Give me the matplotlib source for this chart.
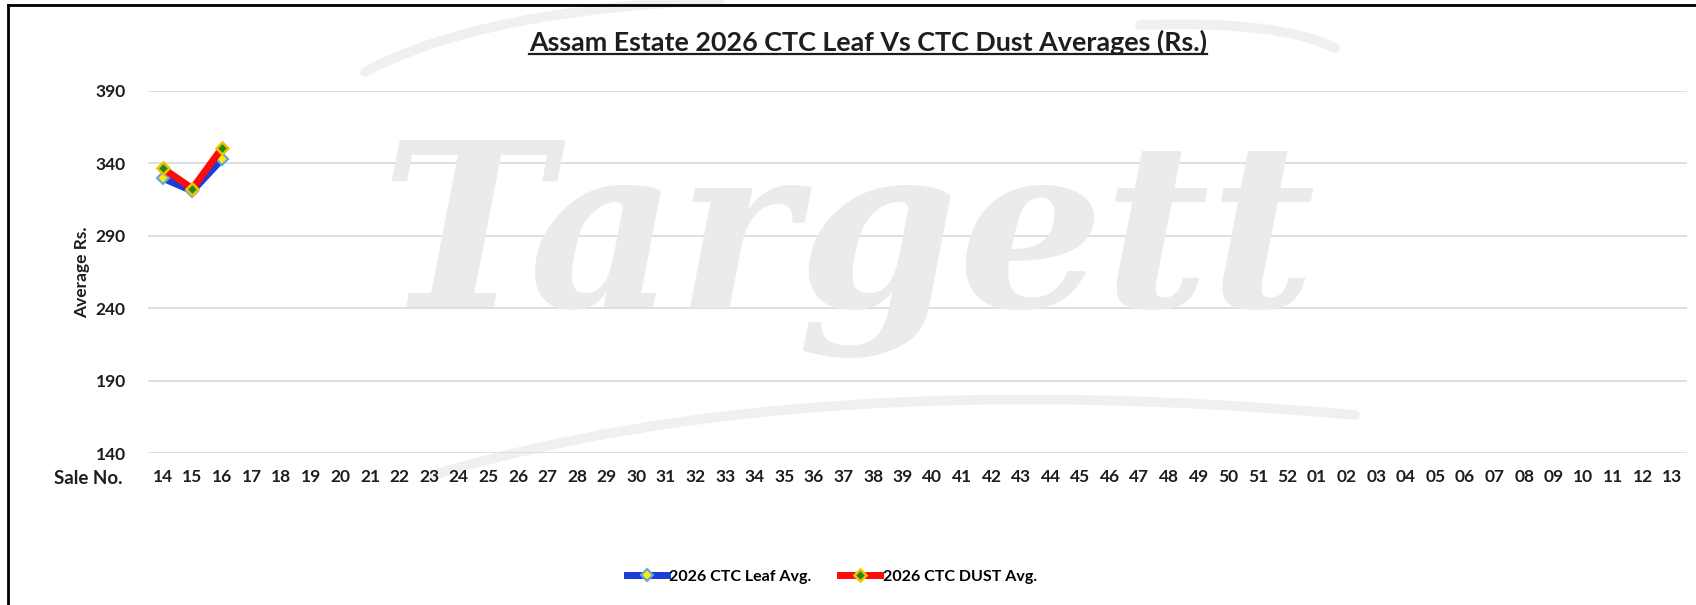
import numpy as np
import matplotlib.pyplot as plt
from matplotlib.lines import Line2D
from matplotlib.path import Path
from matplotlib.patches import PathPatch

plt.rcParams['font.family'] = ['Lato', 'DejaVu Sans']

# sale numbers 14..52 then 01..13
sale_no = [str(i) for i in range(14, 53)] + ['%02d' % i for i in range(1, 14)]
leaf_avg = [329.7, 320.8, 342.8]
dust_avg = [336.5, 322.5, 350.5]
yticks = [140, 190, 240, 290, 340, 390]

W, H = 1696, 605
fig = plt.figure(figsize=(W / 100, H / 100), dpi=100)
ax = fig.add_axes([148/W, 151.7/H, 1539/W, 362.6/H])

# watermark (text + faint swooshes), in pixel coords from top-left
def px(xp, yp):
    return (xp / W, 1 - yp / H)

fig.text(*px(848, 247), 'Targett', fontsize=165, family='DejaVu Serif',
         style='italic', weight='bold', color='#ebebeb', ha='center', va='center', zorder=0)
for pts in ([(365, 72), (480, 10), (720, 0)],
            [(1140, 25), (1280, 20), (1335, 48)],
            [(433, 475), (800, 365), (1355, 415)]):
    verts = [px(*p) for p in pts]
    fig.add_artist(PathPatch(Path(verts, [Path.MOVETO, Path.CURVE3, Path.CURVE3]),
                             transform=fig.transFigure, fc='none', ec='#f0f0f0', lw=7,
                             capstyle='round', zorder=0))

x = np.arange(len(sale_no))
ax.plot(x[:len(leaf_avg)], leaf_avg, color='#1a3fd6', lw=5, marker='D', ms=6.5,
        mfc='#f5f000', mec='#6aa0e6', mew=1.5, label='2026 CTC Leaf Avg.', zorder=3)
ax.plot(x[:len(dust_avg)], dust_avg, color='#ff0a0a', lw=5, marker='D', ms=6.5,
        mfc='#1a8a1a', mec='#f5c000', mew=1.8, label='2026 CTC DUST Avg.', zorder=4)

ax.set_xlim(-0.5, len(sale_no) - 0.5)
ax.set_ylim(140, 390)
ax.set_yticks(yticks)
ax.set_xticks(x)
ax.set_xticklabels(sale_no)
ax.grid(axis='y', color='#d9d9d9', lw=1.2)
ax.set_axisbelow(True)
for s in ax.spines.values():
    s.set_visible(False)
ax.tick_params(length=0)
ax.tick_params(axis='y', pad=16, labelsize=12.5)
ax.tick_params(axis='x', pad=11, labelsize=12.5)
for t in ax.get_xticklabels() + ax.get_yticklabels():
    t.set_fontweight('bold')
    t.set_color('#1e1e1e')
ax.patch.set_alpha(0)

ax.set_ylabel('Average Rs.', fontsize=12.5, fontweight='bold', color='#1e1e1e', labelpad=4)
fig.text(*px(88, 479), 'Sale No.', fontsize=13.5, fontweight='bold',
         color='#1e1e1e', ha='center', va='center')

title = fig.text(*px(868, 42), 'Assam Estate 2026 CTC Leaf Vs CTC Dust Averages (Rs.)',
                 fontsize=19.4, fontweight='bold', color='#1e1e1e', ha='center', va='center')

fig.legend(loc='center', bbox_to_anchor=px(832, 577), ncol=2, frameon=False,
           handlelength=2.5, columnspacing=1.8, handletextpad=0.15,
           prop={'weight': 'bold', 'size': 11.5})

# underline title
fig.canvas.draw()
bb = title.get_window_extent()
fig.add_artist(Line2D([bb.x0 / W, bb.x1 / W], [(bb.y0 + 1) / H] * 2,
                      transform=fig.transFigure, color='#1e1e1e', lw=1.6))

# frame
fig.add_artist(Line2D([8/W, 8/W], [0, 1 - 5/H], transform=fig.transFigure, color='black', lw=2))
fig.add_artist(Line2D([8/W, 1], [1 - 5/H, 1 - 5/H], transform=fig.transFigure, color='black', lw=2))

fig.savefig('out.png', dpi=100)
